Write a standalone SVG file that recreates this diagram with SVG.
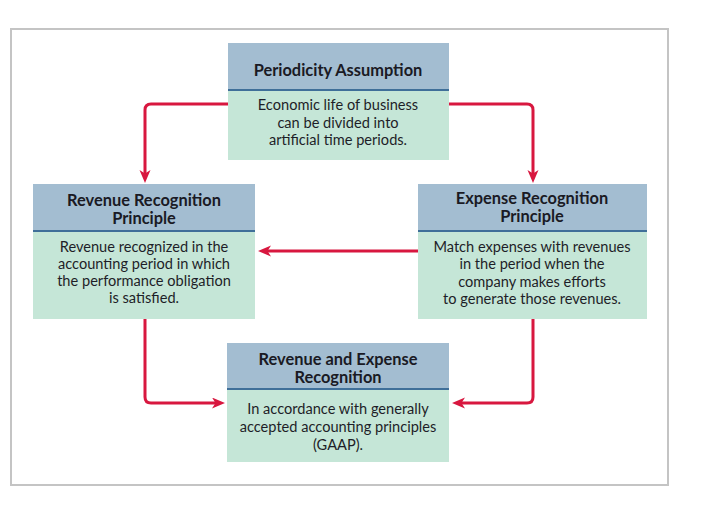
<svg xmlns="http://www.w3.org/2000/svg" width="705" height="505" viewBox="0 0 705 505">
<defs>
<style>
.hdr{fill:#a3bdd1}
.bod{fill:#c5e6d7}
.div{stroke:#3f6f99;stroke-width:2}
.t{font-family:Lato,"Open Sans","Liberation Sans",sans-serif;font-size:14.6px;fill:#1e1e28;text-anchor:middle}
.b{font-weight:bold;font-size:16.4px;fill:#1a1a24}
.c{fill:none;stroke:#d8173f;stroke-width:3}
</style>
<marker id="ah" markerUnits="userSpaceOnUse" markerWidth="14" markerHeight="12" refX="4" refY="5.5" orient="auto">
<path d="M0,0 L13,5.5 L0,11 L3.5,5.5 z" fill="#d8173f"/>
</marker>
</defs>
<rect x="0" y="0" width="705" height="505" fill="#fff"/>
<rect x="11" y="29" width="657" height="456" fill="none" stroke="#c4c4c4" stroke-width="2"/>

<g id="connectors">
<path class="c" d="M228,104 H151 Q145,104 145,110 V174" marker-end="url(#ah)"/>
<path class="c" d="M448,104 H527 Q533,104 533,110 V174" marker-end="url(#ah)"/>
<path class="c" d="M418,251 H267" marker-end="url(#ah)"/>
<path class="c" d="M145,319 V397 Q145,403 151,403 H216" marker-end="url(#ah)"/>
<path class="c" d="M533,319 V397 Q533,403 527,403 H461" marker-end="url(#ah)"/>
</g>

<g id="periodicity">
<rect class="hdr" x="228" y="43" width="221" height="47"/>
<rect class="bod" x="228" y="90" width="221" height="70"/>
<line class="div" x1="228" y1="90" x2="449" y2="90"/>
<text class="t b" x="338" y="76">Periodicity Assumption</text>
<text class="t" x="338" y="110">Economic life of business</text>
<text class="t" x="338" y="128">can be divided into</text>
<text class="t" x="338" y="145">artificial time periods.</text>
</g>

<g id="revenue">
<rect class="hdr" x="33" y="184" width="222" height="47"/>
<rect class="bod" x="33" y="231" width="222" height="88"/>
<line class="div" x1="33" y1="231" x2="255" y2="231"/>
<text class="t b" x="144" y="206">Revenue Recognition</text>
<text class="t b" x="144" y="224">Principle</text>
<text class="t" x="144" y="252">Revenue recognized in the</text>
<text class="t" x="144" y="269">accounting period in which</text>
<text class="t" x="144" y="286">the performance obligation</text>
<text class="t" x="144" y="303">is satisfied.</text>
</g>

<g id="expense">
<rect class="hdr" x="418" y="184" width="229" height="47"/>
<rect class="bod" x="418" y="231" width="229" height="88"/>
<line class="div" x1="418" y1="231" x2="647" y2="231"/>
<text class="t b" x="532" y="204">Expense Recognition</text>
<text class="t b" x="532" y="222">Principle</text>
<text class="t" x="532" y="252">Match expenses with revenues</text>
<text class="t" x="532" y="269">in the period when the</text>
<text class="t" x="532" y="287">company makes efforts</text>
<text class="t" x="532" y="304">to generate those revenues.</text>
</g>

<g id="combined">
<rect class="hdr" x="227" y="343" width="222" height="46"/>
<rect class="bod" x="227" y="389" width="222" height="73"/>
<line class="div" x1="227" y1="389" x2="449" y2="389"/>
<text class="t b" x="338" y="365">Revenue and Expense</text>
<text class="t b" x="338" y="383">Recognition</text>
<text class="t" x="338" y="414">In accordance with generally</text>
<text class="t" x="338" y="432">accepted accounting principles</text>
<text class="t" x="338" y="450">(GAAP).</text>
</g>
</svg>
